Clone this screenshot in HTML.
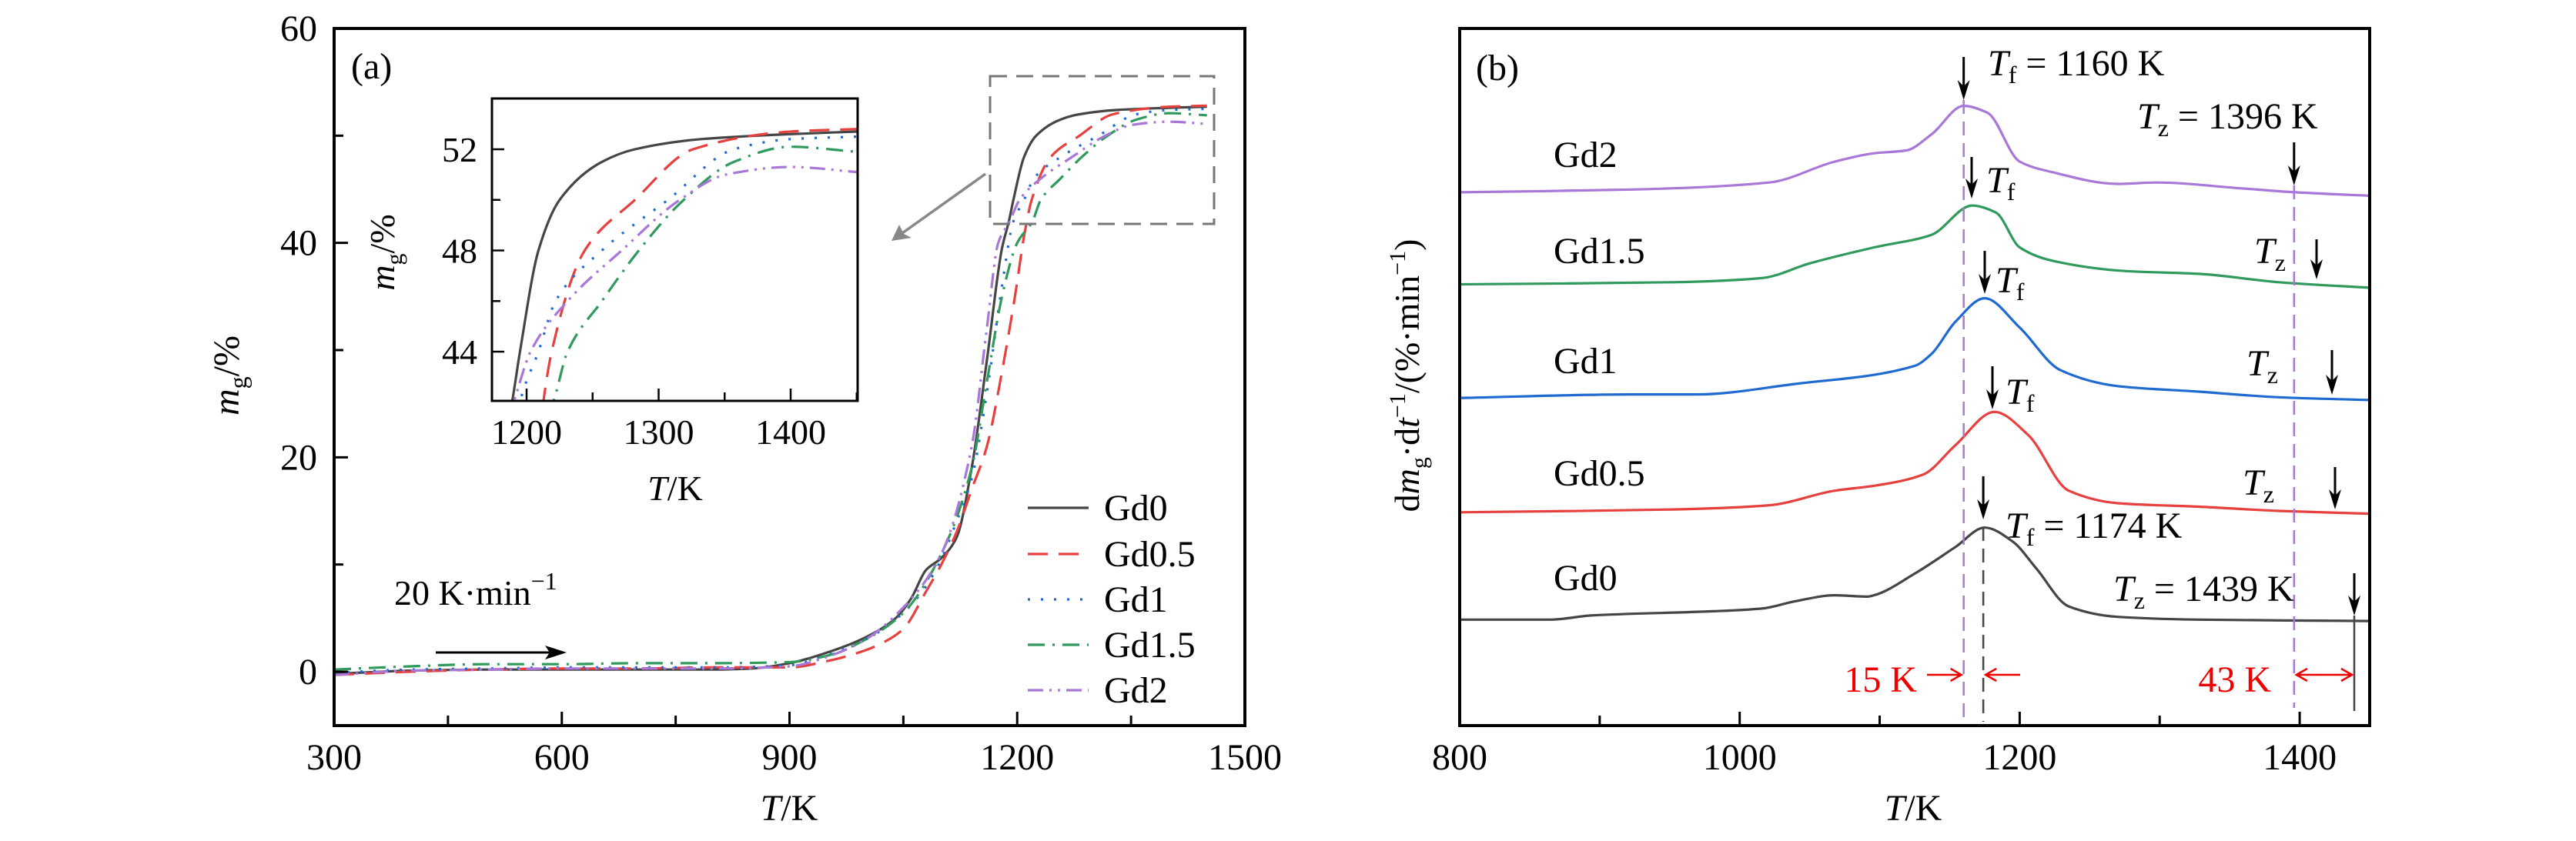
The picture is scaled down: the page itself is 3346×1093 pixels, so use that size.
<!DOCTYPE html>
<html><head><meta charset="utf-8"><style>
html,body{margin:0;padding:0;background:#fff;width:3346px;height:1093px;overflow:hidden;}
svg{display:block;font-family:"Liberation Serif",serif;}
</style></head><body>
<svg id="fig" width="3346" height="1093" viewBox="0 0 3346 1093" xmlns="http://www.w3.org/2000/svg">
<defs>
<clipPath id="clipA"><rect x="434" y="37" width="1183" height="906"/></clipPath>
<clipPath id="clipI"><rect x="639" y="128" width="475" height="393"/></clipPath>
<clipPath id="clipB"><rect x="1896" y="37" width="1182" height="906"/></clipPath>
</defs>
<g id="pa"></g>
<g id="pb"></g>
</svg>
<script>
// ---------- Panel (a) data ----------
const seriesNames = ["Gd0","Gd0.5","Gd1","Gd1.5","Gd2"];
const gd0T = [300,400,500,600,700,800,850,900,950,1000,1040,1060,1080,1100,1120,1140,1160,1180,1189,1195,1209,1225,1257,1282,1332,1400,1450];
const gd0M = [-0.2,0.1,0.2,0.2,0.2,0.2,0.3,0.8,1.8,3.2,5.0,6.8,9.5,10.6,12.5,19,29,39.5,42,44,48,50,51.5,52,52.4,52.6,52.7];
const gd05T = [300,400,500,600,700,800,900,950,1000,1020,1050,1080,1100,1120,1140,1160,1180,1197,1210,1219,1244,1282,1326,1400,1450];
const gd05M = [-0.3,0.0,0.2,0.3,0.3,0.4,0.4,1.0,2.0,2.6,4.0,7.5,10,13,17,21,28,35,41,44,48,50,52,52.7,52.8];
const gd1T = [300,400,500,600,700,800,900,950,1000,1050,1080,1100,1120,1140,1160,1180,1195,1209,1222,1257,1307,1357,1400,1450];
const gd1M = [-0.1,0.2,0.3,0.4,0.4,0.4,0.6,1.6,3,5.5,8,10.5,14,18,26,36,42,44,46,48,50,52,52.4,52.5];
const gd15T = [300,400,500,600,700,800,900,950,1000,1050,1100,1140,1160,1180,1200,1220,1231,1257,1285,1319,1357,1400,1450];
const gd15M = [0.2,0.5,0.7,0.7,0.8,0.8,0.9,1.5,3,5.5,11,19,27,35,40,42,44,46,48,50,51.5,52.1,51.9];
const gd2T = [300,400,500,600,700,800,900,950,1000,1050,1100,1140,1160,1175,1190,1203,1231,1272,1316,1351,1400,1450];
const gd2M = [-0.3,0.1,0.2,0.3,0.3,0.3,0.5,1.4,3,6,11,21,32,40,42,44,46,48,50,51,51.3,51.1];
const xTicksA = [300,600,900,1200,1500];
const yTicksA = [0,20,40,60];
const xTicksInset = [1200,1300,1400];
const yTicksInset = [44,48,52];

// ---------- Panel (b) data (offset curves, arbitrary units) ----------
const b0T = [800,865,894,981,1016,1039,1068,1091,1096,1125,1154,1175,1195,1212,1235,1270,1328,1450];
const b0V = [15.2,15.2,15.8,16.4,16.8,17.8,18.7,18.5,18.7,21.8,25.6,28.4,26.4,22.5,17.1,15.6,15.2,15.0];
const b05T = [800,952,1021,1068,1096,1131,1154,1182,1206,1235,1270,1328,1385,1450];
const b05V = [30.6,31.0,31.6,33.7,34.4,36.0,40.2,45.0,41.7,33.7,31.9,31.4,30.8,30.4];
const b1T = [800,923,969,1039,1125,1137,1154,1175,1200,1229,1270,1328,1385,1450];
const b1V = [47.0,47.5,47.5,49.0,51.6,53.3,57.9,61.3,57.1,51.0,48.7,47.9,47.1,46.7];
const b15T = [800,952,1016,1050,1096,1137,1166,1183,1200,1223,1276,1328,1385,1450];
const b15V = [63.3,63.6,64.2,66.3,68.6,70.4,74.6,73.6,68.6,66.7,65.2,64.8,63.6,62.8];
const b2T = [800,923,1021,1068,1096,1119,1137,1160,1177,1200,1223,1270,1298,1356,1397,1450];
const b2V = [76.5,76.9,77.9,80.9,82.1,82.5,84.8,88.9,87.9,80.9,79.4,77.7,77.9,77.1,76.5,76.0];
const xTicksB = [800,1000,1200,1400];
const tfValues = [1160,1174];
const tzValues = [1396,1439];

const NS="http://www.w3.org/2000/svg";
function mk(parent,tag,attrs){const e=document.createElementNS(NS,tag);for(const k in attrs)e.setAttribute(k,attrs[k]);parent.appendChild(e);return e;}
const colors=["#454545","#e6403f","#1f6ad0","#2f9a5c","#a877d8"];
const dashes=["none","26 14","3 14","22 10 3 10","20 8 3 8 3 8"];

const xa=T=>434+(T-300)*(1183/1200);
const ya=m=>873-m*13.933;
const xi=T=>684+(T-1200)*1.715;
const yi=m=>194-(m-52)*32.88;
const xb=T=>1896+(T-800)*(1182/650);
const yb=v=>943-v*9.06;

const pa=document.getElementById('pa');
const pb=document.getElementById('pb');
const FS=48;

function txt(parent,x,y,s,anchor,size){const t=mk(parent,'text',{x:x,y:y,'font-size':size||FS,'text-anchor':anchor||'start',fill:'#000'});t.innerHTML=s;return t;}
// monotone cubic interpolation (no overshoot)
function pathFrom(T,V,fx,fy){
  const X=T.map(fx),Y=V.map(fy),n=X.length;
  const d=[],m=new Array(n);
  for(let i=0;i<n-1;i++)d.push((Y[i+1]-Y[i])/(X[i+1]-X[i]));
  m[0]=d[0];m[n-1]=d[n-2];
  for(let i=1;i<n-1;i++){
    if(d[i-1]*d[i]<=0)m[i]=0;
    else{const h0=X[i]-X[i-1],h1=X[i+1]-X[i];m[i]=3*(h0+h1)/((2*h1+h0)/d[i-1]+(h1+2*h0)/d[i]);}
  }
  let s='M'+X[0].toFixed(1)+','+Y[0].toFixed(1);
  for(let i=0;i<n-1;i++){
    const h=(X[i+1]-X[i])/3;
    s+=` C${(X[i]+h).toFixed(1)},${(Y[i]+m[i]*h).toFixed(1)} ${(X[i+1]-h).toFixed(1)},${(Y[i+1]-m[i+1]*h).toFixed(1)} ${X[i+1].toFixed(1)},${Y[i+1].toFixed(1)}`;
  }
  return s;
}
function arrowDown(parent,x,y1,y2,name){
  const l=mk(parent,'line',{x1:x,y1:y1,x2:x,y2:y2-12,stroke:'#000','stroke-width':3});
  
  
  const h=mk(parent,'path',{d:`M${x-8},${y2-26} L${x},${y2} L${x+8},${y2-26} L${x},${y2-18} z`,fill:'#000'});
  
  
}

// ===== Panel a =====
const seriesA=[[gd0T,gd0M],[gd05T,gd05M],[gd1T,gd1M],[gd15T,gd15M],[gd2T,gd2M]];
const ga=mk(pa,'g',{'clip-path':'url(#clipA)'});
seriesA.forEach((s,i)=>{
  const p=mk(ga,'path',{d:pathFrom(s[0],s[1],xa,ya),fill:'none',stroke:colors[i],'stroke-width':3.2,'stroke-dasharray':dashes[i],'stroke-linejoin':'round'});
  
  
});
const frA=mk(pa,'rect',{x:434,y:37,width:1183,height:906,fill:'none',stroke:'#000','stroke-width':4});


for(let T=300;T<=1500;T+=150){const l=mk(pa,'line',{x1:xa(T),y1:943,x2:xa(T),y2:(T%300===0?925:930),stroke:'#000','stroke-width':3});
  
  }
for(let m=0;m<=60;m+=10){const l=mk(pa,'line',{x1:434,y1:ya(m),x2:(m%20===0?452:446),y2:ya(m),stroke:'#000','stroke-width':3});
  
  }
xTicksA.forEach(T=>{const t=txt(pa,xa(T),1000,T,'middle');
  
  });
yTicksA.forEach(m=>{const t=txt(pa,412,ya(m)+16,m,'end');
  
  });
let t;
t=txt(pa,1025,1066,'<tspan font-style="italic">T</tspan>/K','middle');


t=txt(pa,0,0,'<tspan font-style="italic">m</tspan><tspan font-size="32" dy="10">g</tspan><tspan dy="-10">/%</tspan>','middle');
t.setAttribute('transform','translate(310,488) rotate(-90)');


t=txt(pa,456,102,'(a)','start');


t=txt(pa,512,786,'20 K·min<tspan font-size="32" dy="-20">−1</tspan>','start',46);


const hr=mk(pa,'path',{d:'M566,848 L718,848',stroke:'#000','stroke-width':3});


const hrh=mk(pa,'path',{d:'M708,839 L736,848 L708,857 L714,848 z',fill:'#000'});


const zb=mk(pa,'rect',{x:1286,y:99,width:291,height:192,fill:'none',stroke:'#777','stroke-width':3,'stroke-dasharray':'22 12'});


const za=mk(pa,'line',{x1:1280,y1:226,x2:1172,y2:303,stroke:'#888','stroke-width':3.5});


const zah=mk(pa,'path',{d:'M1158,313 L1168,292 L1174,304 L1184,309 z',fill:'#888'});


seriesNames.forEach((n,i)=>{
  const y=[660,720,779,838,897][i];
  const l=mk(pa,'line',{x1:1335,y1:y,x2:1414,y2:y,stroke:colors[i],'stroke-width':3.2,'stroke-dasharray':dashes[i]});
  
  
  const tt=txt(pa,1434,y+16,n,'start');
  
  
});
const gi=mk(pa,'g',{});


const ibg=mk(gi,'rect',{x:639,y:128,width:475,height:393,fill:'#fff'});


const gic=mk(gi,'g',{'clip-path':'url(#clipI)'});
seriesA.forEach((s,i)=>{
  const p=mk(gic,'path',{d:pathFrom(s[0],s[1],xi,yi),fill:'none',stroke:colors[i],'stroke-width':3.2,'stroke-dasharray':dashes[i],'stroke-linejoin':'round'});
  
  
});
const ifr=mk(gi,'rect',{x:639,y:128,width:475,height:393,fill:'none',stroke:'#000','stroke-width':3});


for(let T=1200;T<=1450;T+=50){const l=mk(gi,'line',{x1:xi(T),y1:521,x2:xi(T),y2:(T%100===0?505:510),stroke:'#000','stroke-width':2.5});
  
  }
for(let m=44;m<=54;m+=2){const l=mk(gi,'line',{x1:639,y1:yi(m),x2:(m%4===0?655:650),y2:yi(m),stroke:'#000','stroke-width':2.5});
  
  }
xTicksInset.forEach(T=>{const tt=txt(gi,xi(T),577,T,'middle',46);
  
  });
yTicksInset.forEach(m=>{const tt=txt(gi,620,yi(m)+16,m,'end',46);
  
  });
t=txt(gi,877,650,'<tspan font-style="italic">T</tspan>/K','middle',46);


t=txt(gi,0,0,'<tspan font-style="italic">m</tspan><tspan font-size="30" dy="10">g</tspan><tspan dy="-10">/%</tspan>','middle',46);
t.setAttribute('transform','translate(512,328) rotate(-90)');



// ===== Panel b =====
const seriesB=[[b0T,b0V],[b05T,b05V],[b1T,b1V],[b15T,b15V],[b2T,b2V]];
const gb=mk(pb,'g',{'clip-path':'url(#clipB)'});
seriesB.forEach((s,i)=>{
  const p=mk(gb,'path',{d:pathFrom(s[0],s[1],xb,yb),fill:'none',stroke:colors[i],'stroke-width':3.2,'stroke-linejoin':'round'});
  
  
});
const frB=mk(pb,'rect',{x:1896,y:37,width:1182,height:906,fill:'none',stroke:'#000','stroke-width':4});


for(let T=800;T<=1400;T+=100){const l=mk(pb,'line',{x1:xb(T),y1:943,x2:xb(T),y2:(T%200===0?925:930),stroke:'#000','stroke-width':3});
  
  }
xTicksB.forEach(T=>{const tt=txt(pb,xb(T),1000,T,'middle');
  
  });
t=txt(pb,2485,1066,'<tspan font-style="italic">T</tspan>/K','middle');


t=txt(pb,0,0,'d<tspan font-style="italic">m</tspan><tspan font-size="30" dy="10">g</tspan><tspan dy="-10">·d</tspan><tspan font-style="italic">t</tspan><tspan font-size="30" dy="-18">−1</tspan><tspan dy="18">/(%·min</tspan><tspan font-size="30" dy="-18">−1</tspan><tspan dy="18">)</tspan>','middle',46);
t.setAttribute('transform','translate(1843,488) rotate(-90)');


t=txt(pb,1917,104,'(b)','start');


[["Gd2",217],["Gd1.5",342],["Gd1",485],["Gd0.5",631],["Gd0",767]].forEach(a=>{
  const tt=txt(pb,2018,a[1],a[0],'start');
  
  
});
let l;
l=mk(pb,'line',{x1:xb(tfValues[0]),y1:130,x2:xb(tfValues[0]),y2:938,stroke:'#a877d8','stroke-width':2.5,'stroke-dasharray':'18 10'});


l=mk(pb,'line',{x1:xb(tfValues[1]),y1:685,x2:xb(tfValues[1]),y2:938,stroke:'#444','stroke-width':2.5,'stroke-dasharray':'18 10'});


l=mk(pb,'line',{x1:xb(tzValues[0]),y1:241,x2:xb(tzValues[0]),y2:920,stroke:'#a877d8','stroke-width':2.5,'stroke-dasharray':'18 10'});


l=mk(pb,'line',{x1:xb(tzValues[1]),y1:800,x2:xb(tzValues[1]),y2:924,stroke:'#444','stroke-width':2.5});


arrowDown(pb,xb(tfValues[0]),74,130,'tf-gd2-arrow');
t=txt(pb,2582,98,'<tspan font-style="italic">T</tspan><tspan font-size="32" dy="10">f</tspan><tspan dy="-10"> = 1160 K</tspan>');


arrowDown(pb,xb(tzValues[0]),185,241,'tz-gd2-arrow');
t=txt(pb,2776,167,'<tspan font-style="italic">T</tspan><tspan font-size="32" dy="10">z</tspan><tspan dy="-10"> = 1396 K</tspan>');


arrowDown(pb,2561,204,258,'tf-gd15-arrow');
t=txt(pb,2580,250,'<tspan font-style="italic">T</tspan><tspan font-size="32" dy="10">f</tspan>');


t=txt(pb,2928,342,'<tspan font-style="italic">T</tspan><tspan font-size="32" dy="10">z</tspan>');


arrowDown(pb,3009,311,363,'tz-gd15-arrow');
arrowDown(pb,2578,326,382,'tf-gd1-arrow');
t=txt(pb,2592,380,'<tspan font-style="italic">T</tspan><tspan font-size="32" dy="10">f</tspan>');


t=txt(pb,2918,488,'<tspan font-style="italic">T</tspan><tspan font-size="32" dy="10">z</tspan>');


arrowDown(pb,3029,455,513,'tz-gd1-arrow');
arrowDown(pb,2588,476,532,'tf-gd05-arrow');
t=txt(pb,2605,525,'<tspan font-style="italic">T</tspan><tspan font-size="32" dy="10">f</tspan>');


t=txt(pb,2913,643,'<tspan font-style="italic">T</tspan><tspan font-size="32" dy="10">z</tspan>');


arrowDown(pb,3033,607,662,'tz-gd05-arrow');
arrowDown(pb,xb(tfValues[1]),619,675,'tf-gd0-arrow');
t=txt(pb,2605,699,'<tspan font-style="italic">T</tspan><tspan font-size="32" dy="10">f</tspan><tspan dy="-10"> = 1174 K</tspan>');


t=txt(pb,2745,781,'<tspan font-style="italic">T</tspan><tspan font-size="32" dy="10">z</tspan><tspan dy="-10"> = 1439 K</tspan>');


arrowDown(pb,xb(tzValues[1]),745,800,'tz-gd0-arrow');
t=txt(pb,2490,899,'15 K','end');
t.setAttribute('fill','#e00');


t=txt(pb,2950,899,'43 K','end');
t.setAttribute('fill','#e00');


const redArrows=[[2503,xb(tfValues[0])-3,'tf-diff-arrow-left'],[2624,xb(tfValues[1])+3,'tf-diff-arrow-right']];
redArrows.forEach(a=>{
  const r=mk(pb,'path',{d:`M${a[0]},877 L${a[1]},877 M${a[1]+(a[1]>a[0]?-14:14)},869 L${a[1]},877 L${a[1]+(a[1]>a[0]?-14:14)},885`,stroke:'#e00','stroke-width':2.5,fill:'none'});
  
  
});
const x1=xb(tzValues[0])+3,x2=xb(tzValues[1])-3;
const dr=mk(pb,'path',{d:`M${x1},877 L${x2},877 M${x1+14},869 L${x1},877 L${x1+14},885 M${x2-14},869 L${x2},877 L${x2-14},885`,stroke:'#e00','stroke-width':2.5,fill:'none'});


</script>
</body></html>
